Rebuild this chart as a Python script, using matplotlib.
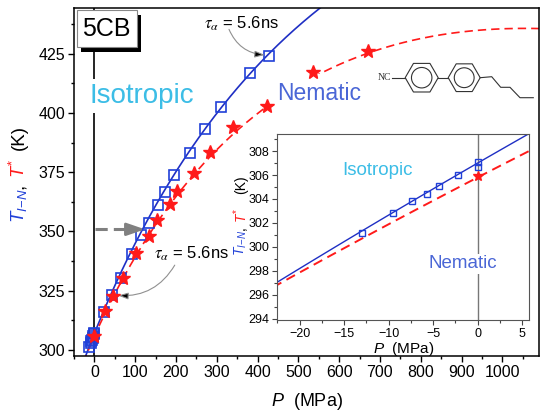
import numpy as np
import matplotlib
matplotlib.use('Agg')
import matplotlib.pyplot as plt
from matplotlib.patches import Rectangle, Circle, RegularPolygon

plt.rcParams['font.family'] = ['Liberation Sans', 'DejaVu Sans']
plt.rcParams['mathtext.fontset'] = 'custom'
plt.rcParams['mathtext.it'] = 'Liberation Sans:italic'
plt.rcParams['mathtext.rm'] = 'Liberation Sans'

# T_I-N (open squares), P in MPa, T in K
p_tin = [-13.0, -9.5, -7.4, -5.7, -4.35, -2.2, 0.0, 0.0, 24, 43.5, 66, 92, 114.5,
         134, 156, 172.6, 195, 235, 272, 311, 381, 427]
t_tin = [301.2, 302.8, 303.8, 304.4, 305.1, 306.0, 306.7, 307.1, 316.2, 323.2, 330.2,
         340.3, 348.5, 353.7, 361.1, 366.7, 373.8, 382.9, 393.2, 402.3, 416.7, 424.0]

# T* (stars)
p_star = [0.0, 25.7, 45, 69, 102.4, 134, 152.5, 184.7, 202, 243.6, 283, 339.7,
          422.8, 536.6, 670.7]
t_star = [305.9, 316.4, 322.9, 330.5, 340.8, 348.2, 354.8, 361.5, 367.2, 374.8,
          383.3, 393.9, 402.9, 417.3, 426.0]

# damped Simon-Glatzel fits: T = T0 (1 + P/pi)^k exp(-P/c)
fit_tin = (307.0, 300.0, 0.5046, 3501.0)
fit_star = (305.8, 300.0, 0.485, 2795.0)


def sg(p, t0, pi, k, c):
    return t0 * (1 + p / pi) ** k * np.exp(-p / c)


W, H = 550, 419
blue_line = '#1f2fc4'
blue_mk = '#2040d8'
red = '#ff1a1a'
cyan = '#3cbde6'
nem = '#4a66d6'

fig = plt.figure(figsize=(5.5, 4.19), dpi=100)
ax = fig.add_axes([74 / W, 1 - 356 / H, 465 / W, 348 / H])
ins = fig.add_axes([277.3 / W, 1 - 320 / H, 252 / W, 185.7 / H])
ov = fig.add_axes([0, 0, 1, 1], zorder=5)
ov.set_xlim(0, W)
ov.set_ylim(H, 0)
ov.axis('off')
ov.patch.set_visible(False)

# ---- main plot ----
pp = np.linspace(-40, 1100, 600)
ax.axvline(0, color='k', lw=1.2, zorder=1)
ax.plot(pp, sg(pp, *fit_tin), '-', color=blue_line, lw=1.2, zorder=2)
ax.plot(pp, sg(pp, *fit_star), '--', color=red, lw=1.2, dashes=(5, 3), zorder=2)
ax.plot(p_tin, t_tin, 's', ms=6.5, mfc='none', mec=blue_mk, mew=1.2, zorder=3)
ax.plot(p_star, t_star, '*', ms=10, color=red, mec=red, zorder=4)

ax.set_xlim(-35, 1090)
ax.set_ylim(297.5, 444.2)
ax.set_xticks(np.arange(0, 1001, 100))
ax.set_xticks(np.arange(-50, 1090, 50), minor=True)
ax.set_yticks(np.arange(300, 426, 25))
ax.set_yticks(np.arange(300, 444, 12.5), minor=True)
ax.tick_params(which='both', direction='out', top=False, right=False, labelsize=11.5, width=1)
ax.tick_params(which='major', length=4.5, pad=2)
ax.tick_params(which='minor', length=2.5)
for s in ax.spines.values():
    s.set_linewidth(1.1)
ax.set_xlabel('$P$  (MPa)', fontsize=13, labelpad=8)

ax.text(0.034, 0.727, 'Isotropic', transform=ax.transAxes, fontsize=20, color=cyan,
        ha='left', va='baseline', zorder=3,
        bbox=dict(boxstyle='square,pad=0.15', fc='white', ec='none'))
ax.text(0.436, 0.736, 'Nematic', transform=ax.transAxes, fontsize=16.5, color=nem,
        ha='left', va='baseline', zorder=3,
        bbox=dict(boxstyle='square,pad=0.35', fc='white', ec='none'))

# tau annotations
ax.text(360, 437.4, r'$\tau_{\alpha}$ = 5.6ns', fontsize=12, ha='center', va='center',
        math_fontfamily='stix')
ax.annotate('', xy=(418, 424.4), xytext=(330, 435.2),
            arrowprops=dict(arrowstyle='-|>,head_length=0.6,head_width=0.2', fc='k', ec='#909090',
                            lw=0.8, connectionstyle='arc3,rad=0.3', shrinkA=0, shrinkB=0,
                            mutation_scale=10))
ax.text(239, 340.5, r'$\tau_{\alpha}$ = 5.6ns', fontsize=12, ha='center', va='center',
        math_fontfamily='stix')
ax.annotate('', xy=(58, 323.0), xytext=(197, 335.8),
            arrowprops=dict(arrowstyle='-|>,head_length=0.6,head_width=0.2', fc='k', ec='#909090',
                            lw=0.8, connectionstyle='arc3,rad=-0.3', shrinkA=0, shrinkB=0,
                            mutation_scale=10))

# gray dashed arrow
ax.plot([1, 88], [350.9, 350.9], color='#808080', lw=2.2, dashes=(4, 2), zorder=2)
ax.annotate('', xy=(124, 350.9), xytext=(86, 350.9),
            arrowprops=dict(arrowstyle='-|>,head_length=1.1,head_width=0.38', color='#808080',
                            lw=2, shrinkA=0, shrinkB=0, mutation_scale=10))

# ---- inset ----
pi_ = np.linspace(-23, 7, 50)
ins.axvline(0, color='#777777', lw=1, zorder=1)
ins.plot(pi_, sg(pi_, *fit_tin), '-', color=blue_line, lw=1.0, zorder=2)
ins.plot(pi_, sg(pi_, *fit_star), '--', color=red, lw=1.4, dashes=(5, 3), zorder=2)
ins_tin = [(p, t) for p, t in zip(p_tin, t_tin) if p <= 1]
ins_star = [(p, t) for p, t in zip(p_star, t_star) if p <= 1]
ins.plot([a for a, b in ins_tin], [b for a, b in ins_tin], 's', ms=4.5, mfc='none',
         mec=blue_mk, mew=1.0, zorder=3)
ins.plot([a for a, b in ins_star], [b for a, b in ins_star], '*', ms=7, color=red, zorder=4)
ins.set_xlim(-22.1, 5.8)
ins.set_ylim(293.9, 309.4)
ins.set_xticks(np.arange(-20, 6, 5))
ins.set_xticks(np.arange(-22.5, 6, 2.5), minor=True)
ins.set_yticks(np.arange(294, 309, 2))
ins.set_yticks(np.arange(294, 310, 1), minor=True)
ins.tick_params(which='both', direction='out', top=False, right=False, labelsize=9,
                color='#444444', width=0.8)
ins.tick_params(which='major', length=3.5, pad=2)
ins.tick_params(which='minor', length=2)
for s in ins.spines.values():
    s.set_linewidth(0.8)
    s.set_color('#555555')
ins.set_xlabel('$P$  (MPa)', fontsize=11, labelpad=0)
ins.text(0.396, 0.781, 'Isotropic', transform=ins.transAxes, fontsize=13.5, color=cyan,
         ha='center', va='baseline')
ins.text(0.738, 0.278, 'Nematic', transform=ins.transAxes, fontsize=13.5, color=nem,
         ha='center', va='baseline', zorder=3,
         bbox=dict(boxstyle='square,pad=0.1', fc='white', ec='none'))

# ---- y labels built from coloured pieces (centre y in pixels from top) ----
def label_piece(x, y, s, c, size):
    fig.text(x / W, 1 - y / H, s, color=c, fontsize=size, rotation=90,
             ha='center', va='center', zorder=6)


ylab = [r'$T_{I\!-\!N}$', ',', r'$T^{*}$', '(K)']
ylab_colors = [blue_mk, 'k', red, 'k']
for s, c, y in zip(ylab, ylab_colors, [206, 186, 168, 138]):
    label_piece(19, y, s, c, 13.5)
for s, c, y in zip(ylab, ylab_colors, [243, 228, 215, 185]):
    label_piece(241, y, s, c, 10)

# ---- 5CB box ----
ov.add_patch(Rectangle((81, 15), 60, 37, fc='k', ec='none'))
ov.add_patch(Rectangle((76.7, 10), 60, 36.7, fc='white', ec='#888888', lw=0.8))
ov.text(106.7, 29, '5CB', fontsize=18, ha='center', va='center')

# ---- molecule sketch ----
mol = '#333333'
ov.text(384, 78, 'NC', fontsize=7, family='Liberation Serif', ha='center', va='center', color=mol)
for cx, r in [(421.7, 16.5), (464.2, 16.0)]:
    ov.add_patch(RegularPolygon((cx, 77.7), 6, radius=r, orientation=np.pi / 6,
                                fc='none', ec=mol, lw=0.8))
    ov.add_patch(Circle((cx, 77.7), r * 0.62, fc='none', ec=mol, lw=0.8))
ov.plot([392, 405.2], [77.7, 77.7], color=mol, lw=0.8)
ov.plot([438.2, 448.2], [77.7, 77.7], color=mol, lw=0.8)
ov.plot([480.2, 491.7, 500.7, 510, 520, 533.3], [77.7, 76.7, 87.3, 87.3, 97.7, 97.7],
        color=mol, lw=0.8)

fig.savefig('out.png', dpi=100)
